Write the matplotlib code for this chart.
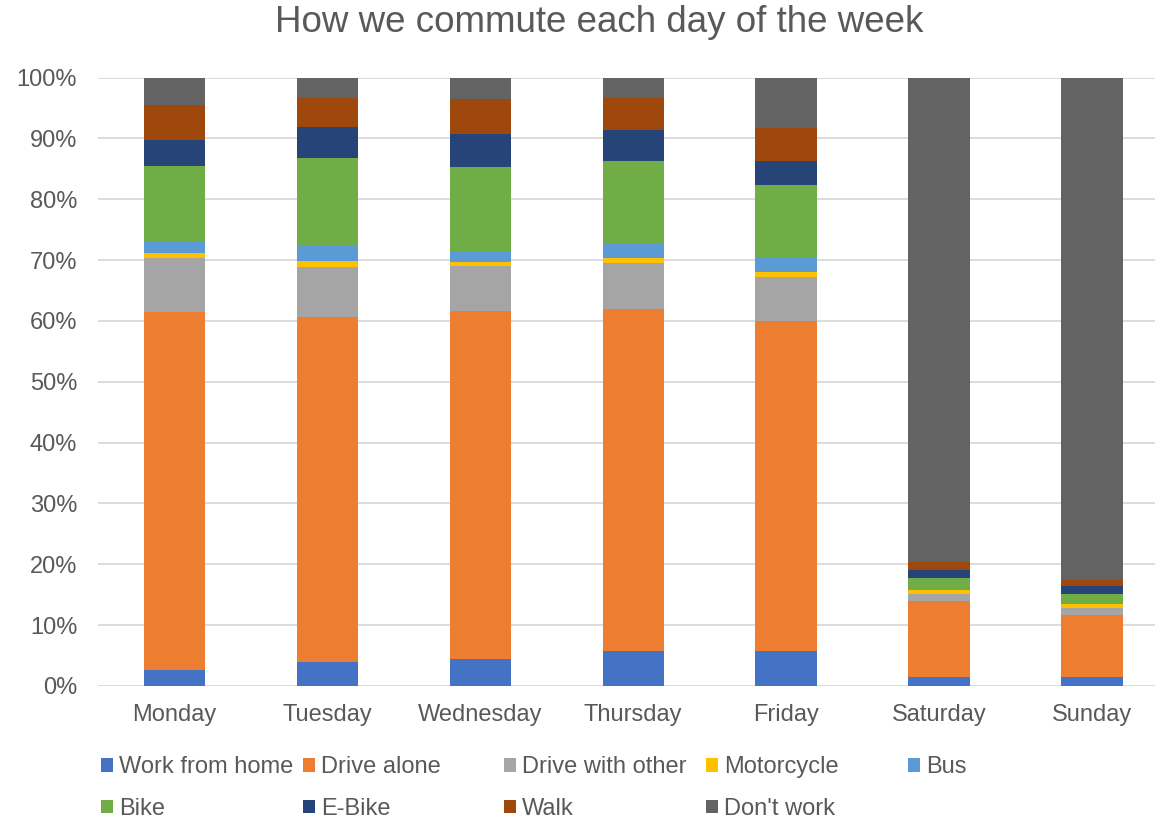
import matplotlib
matplotlib.use('Agg')
import matplotlib.pyplot as plt
import numpy as np
from matplotlib.ticker import PercentFormatter

plt.rcParams['font.family'] = ['Liberation Sans', 'DejaVu Sans']

days = ['Monday', 'Tuesday', 'Wednesday', 'Thursday', 'Friday', 'Saturday', 'Sunday']

# share of people (%) per commute mode
work_from_home = [2.6, 3.9, 4.4, 5.7, 5.7, 1.5, 1.5]
drive_alone = [58.9, 56.8, 57.3, 56.3, 54.3, 12.5, 10.2]
drive_with_other = [8.9, 8.2, 7.3, 7.5, 7.2, 1.2, 1.1]
motorcycle = [0.8, 0.9, 0.7, 0.9, 0.9, 0.5, 0.6]
bus = [2.0, 2.5, 1.7, 2.4, 2.3, 0.1, 0.1]
bike = [12.3, 14.5, 13.9, 13.5, 11.9, 2.0, 1.6]
e_bike = [4.3, 5.0, 5.4, 5.0, 3.9, 1.2, 1.4]
walk = [5.7, 4.9, 5.7, 5.4, 5.5, 1.4, 1.0]
dont_work = [4.5, 3.3, 3.6, 3.3, 8.3, 79.6, 82.5]

series = [
    ('Work from home', work_from_home, '#4472C4'),
    ('Drive alone', drive_alone, '#ED7D31'),
    ('Drive with other', drive_with_other, '#A5A5A5'),
    ('Motorcycle', motorcycle, '#FFC000'),
    ('Bus', bus, '#5B9BD5'),
    ('Bike', bike, '#70AD47'),
    ('E-Bike', e_bike, '#264478'),
    ('Walk', walk, '#9E480E'),
    ("Don't work", dont_work, '#636363'),
]

txt = '#595959'

fig = plt.figure(figsize=(11.55, 8.19), dpi=100)
# plot area runs a bit past the right edge, like the original
ax = fig.add_axes([98 / 1155, 133 / 819, 1070.5 / 1155, 608.5 / 819])

x = np.arange(len(days))
totals = np.sum([s[1] for s in series], axis=0)
bottom = np.zeros(len(days))
handles = []
for name, vals, col in series:
    v = np.array(vals) / totals
    b = ax.bar(x, v, 0.402, bottom=bottom, color=col, label=name, zorder=2)
    handles.append(b)
    bottom += v

ax.set_xlim(-0.5, 6.5)
ax.set_ylim(0, 1)
ax.set_yticks(np.arange(0, 1.01, 0.1))
ax.yaxis.set_major_formatter(PercentFormatter(1.0, decimals=0))
ax.set_xticks(x)
ax.set_xticklabels(days)
ax.tick_params(axis='both', length=0, labelsize=17, colors=txt)
ax.tick_params(axis='y', pad=15)
ax.tick_params(axis='x', pad=13)
ax.grid(axis='y', color='#d9d9d9', linewidth=1.3, zorder=0)
ax.set_axisbelow(True)
for sp in ax.spines.values():
    sp.set_visible(False)

fig.text(599 / 1155, 1 - 23 / 819, 'How we commute each day of the week',
         ha='center', va='center', fontsize=26.5, color=txt)

# legend laid out in even columns, row by row
col_x = [101, 303, 504, 706, 908]
for c in range(5):
    hs = [handles[i] for i in (c, c + 5) if i < len(handles)]
    leg = fig.legend(handles=hs, loc='upper left',
                     bbox_to_anchor=(col_x[c] / 1155, 1 - 756 / 819),
                     frameon=False, fontsize=17, borderpad=0, borderaxespad=0,
                     handlelength=0.52, handleheight=0.52, handletextpad=0.25,
                     labelspacing=0.84)
    for t in leg.get_texts():
        t.set_color(txt)

fig.savefig('out.png', dpi=100)
